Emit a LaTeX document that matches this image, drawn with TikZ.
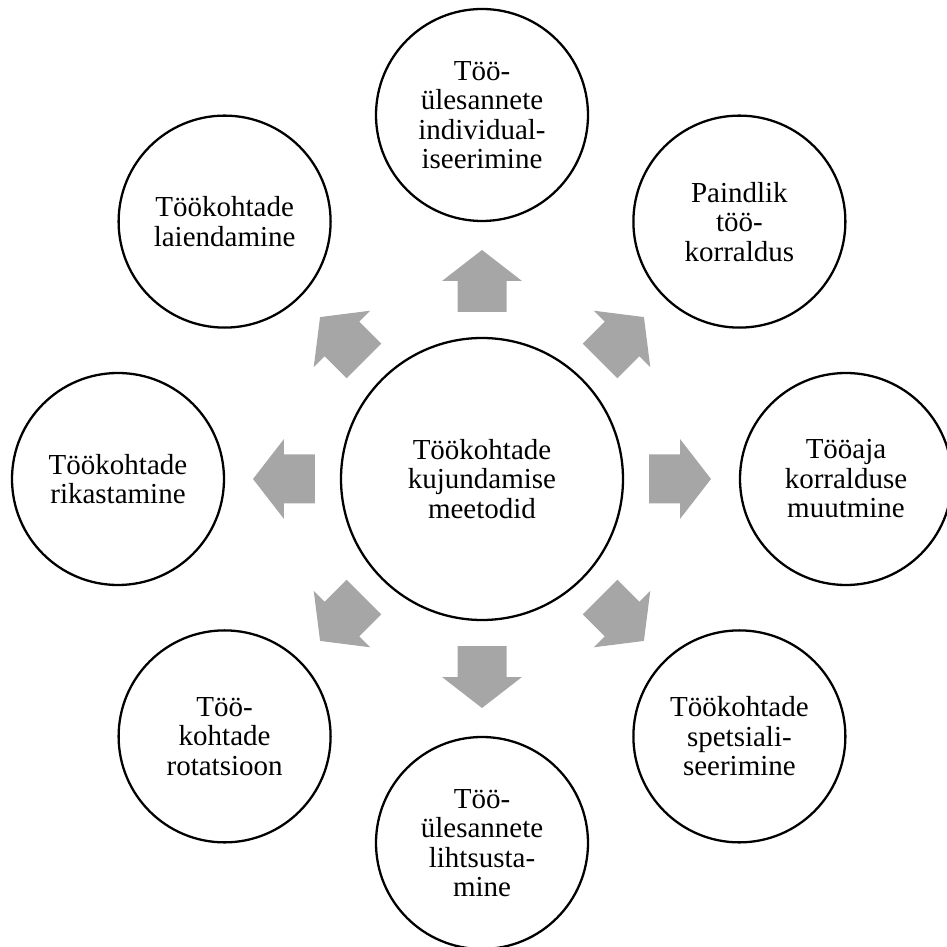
\documentclass[tikz,border=0pt]{standalone}
\usepackage{fontspec}
\setmainfont{Liberation Serif}
\usepackage{xcolor}
\usetikzlibrary{calc, positioning}
\definecolor{arrowgray}{RGB}{166,166,166}

\begin{document}
\begin{tikzpicture}[
  hubnode/.style = {
    circle, draw=black, line width=1.3pt, fill=white,
    minimum size=5.64cm, inner sep=0pt, align=center,
    font=\fontsize{16.5}{16.8}\selectfont
  },
  satnode/.style = {
    circle, draw=black, line width=1.3pt, fill=white,
    minimum size=4.24cm, inner sep=0pt, align=center,
    font=\fontsize{16.5}{16.8}\selectfont
  },
  blockarr/.style = {
    draw=none, fill=arrowgray,
    to path={
      ($(\tikztostart)!3.34cm!(\tikztotarget)$) coordinate (as)
      ($(\tikztostart)!3.96cm!(\tikztotarget)$) coordinate (ab)
      ($(\tikztostart)!4.58cm!(\tikztotarget)$) coordinate (at)
      ($(as)!0.49cm!90:(at)$) -- ($(ab)!0.49cm!90:(at)$)
      -- ($(ab)!0.8cm!90:(at)$) -- (at)
      -- ($(ab)!0.8cm!-90:(at)$) -- ($(ab)!0.49cm!-90:(at)$)
      -- ($(as)!0.49cm!-90:(at)$) -- cycle
    }
  }
]
\useasboundingbox (-9.64,-9.36) rectangle (9.30,9.58);

\node[hubnode] (hub) at (0,0) {Töökohtade\\kujundamise\\meetodid};
\node[satnode] (indiv)  at (90:7.28)   {Töö-\\ülesannete\\individual-\\iseerimine};
\node[satnode] (paind)  at (45:7.28)   {Paindlik\\töö-\\korraldus};
\node[satnode] (tooaeg) at (0:7.28)    {Tööaja\\korralduse\\muutmine};
\node[satnode] (spets)  at (-45:7.28)  {Töökohtade\\spetsiali-\\seerimine};
\node[satnode] (lihts)  at (-90:7.28)  {Töö-\\ülesannete\\lihtsusta-\\mine};
\node[satnode] (rotats) at (-135:7.28) {Töö-\\kohtade\\rotatsioon};
\node[satnode] (rikast) at (180:7.28)  {Töökohtade\\rikastamine};
\node[satnode] (laiend) at (135:7.28)  {Töökohtade\\laiendamine};

\path[blockarr] (hub.center) to (indiv.center);
\path[blockarr] (hub.center) to (paind.center);
\path[blockarr] (hub.center) to (tooaeg.center);
\path[blockarr] (hub.center) to (spets.center);
\path[blockarr] (hub.center) to (lihts.center);
\path[blockarr] (hub.center) to (rotats.center);
\path[blockarr] (hub.center) to (rikast.center);
\path[blockarr] (hub.center) to (laiend.center);
\end{tikzpicture}
\end{document}
